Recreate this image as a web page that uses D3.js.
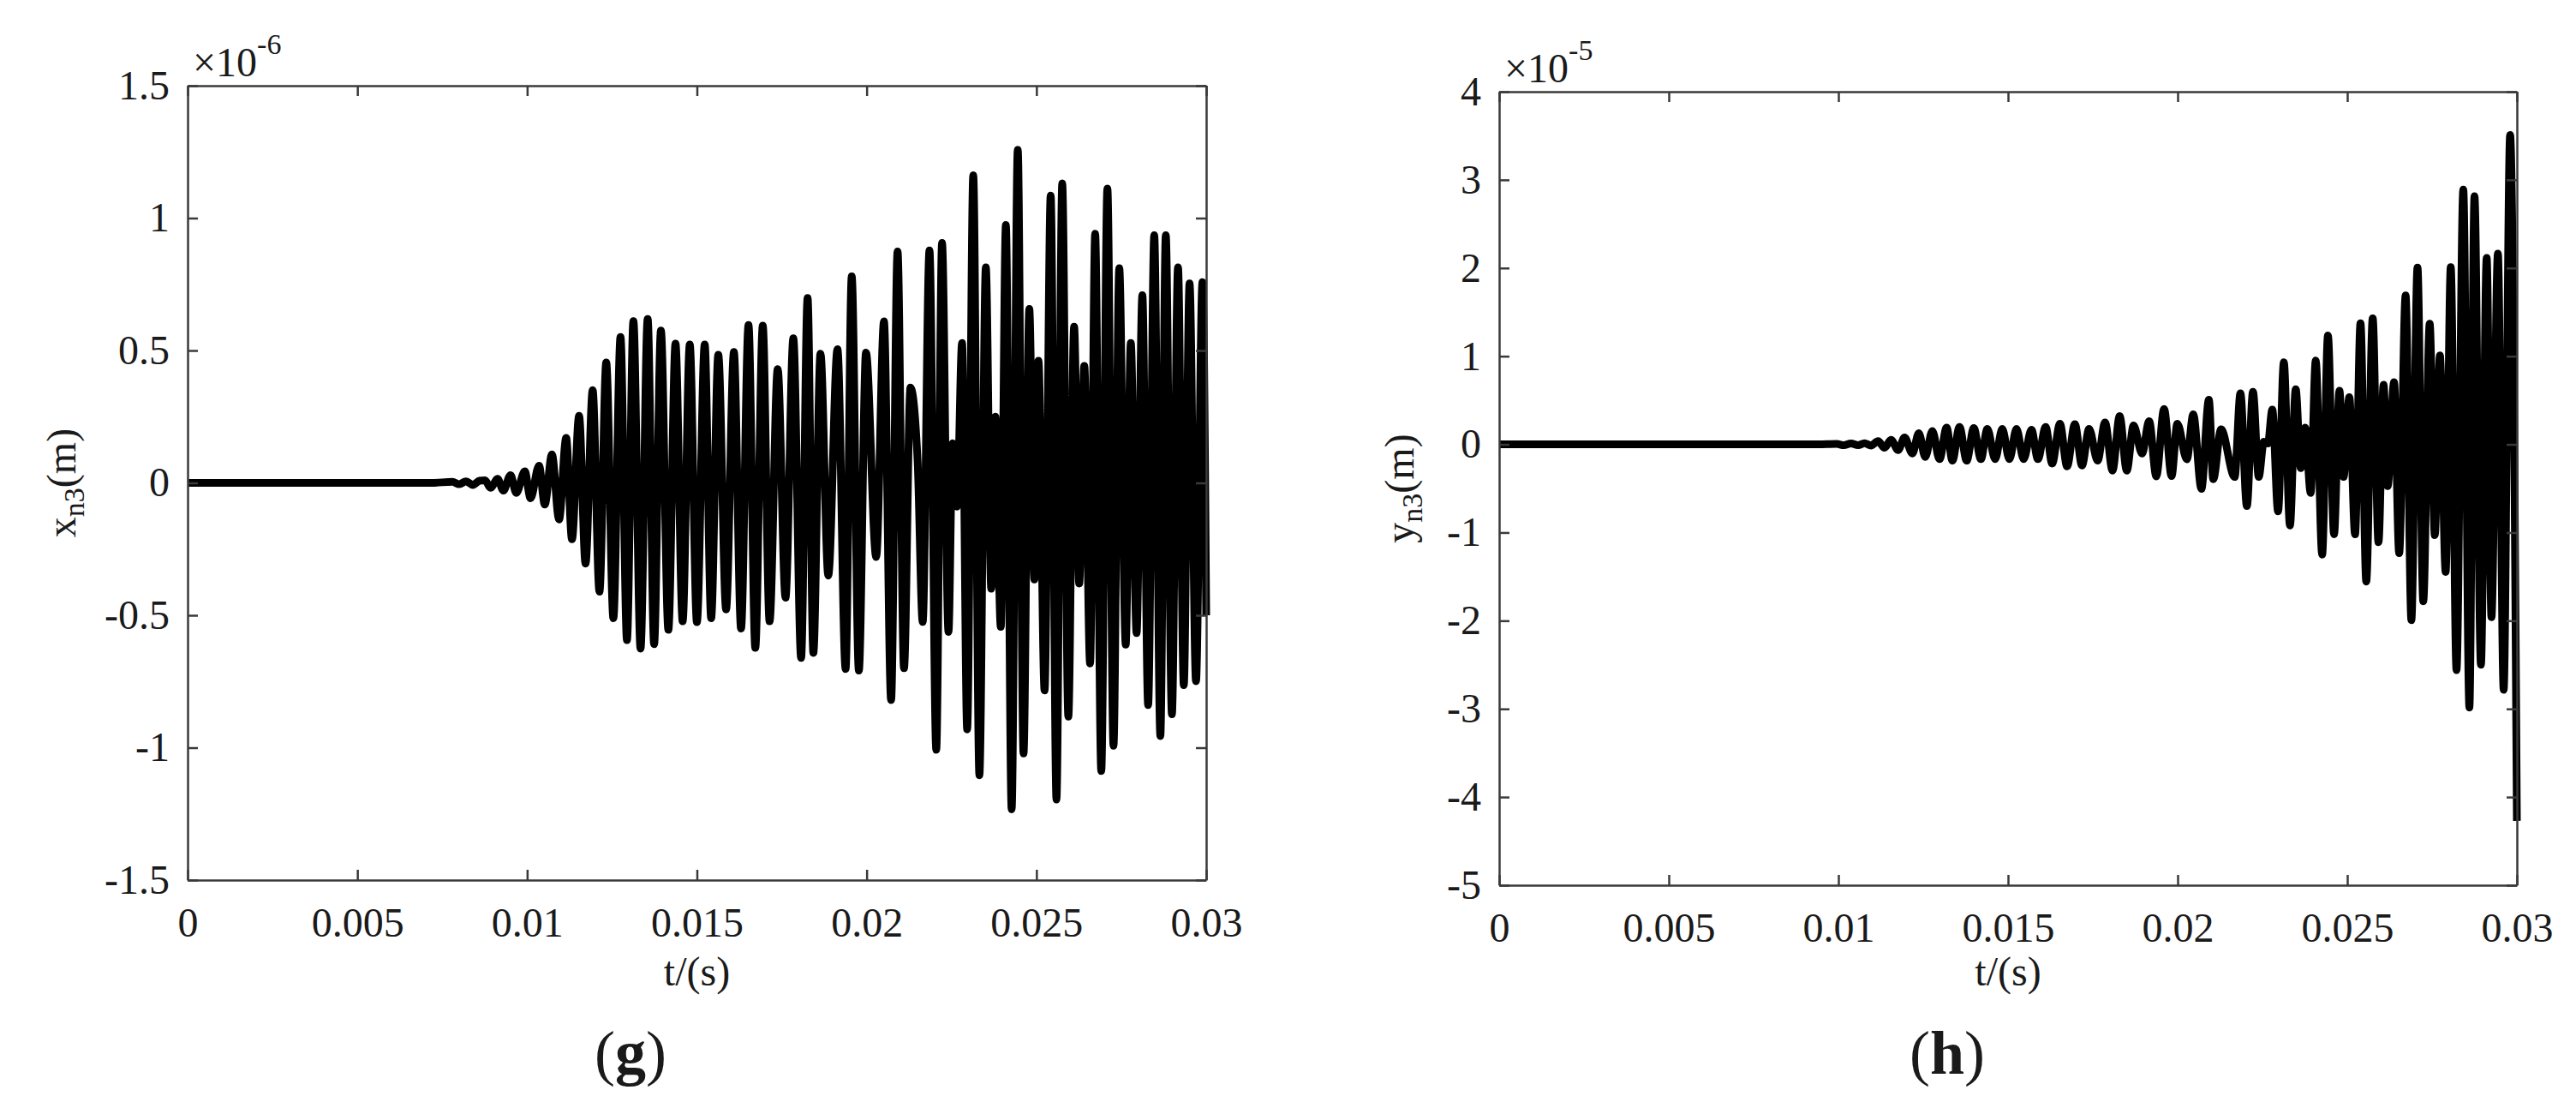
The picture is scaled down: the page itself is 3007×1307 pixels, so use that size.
<!DOCTYPE html>
<html>
<head>
<meta charset="utf-8">
<script src="https://cdn.jsdelivr.net/npm/d3@7"></script>
<style>
  body { margin: 0; background: #fff; }
  text { font-family: "Liberation Serif", "Times New Roman", Times, serif; fill: #1a1a1a; }
</style>
</head>
<body>
<script>
// time ticks shared by both panels
var timeTicks = [0, 0.005, 0.01, 0.015, 0.02, 0.025, 0.03];
var timeTickLabels = ["0", "0.005", "0.01", "0.015", "0.02", "0.025", "0.03"];

// panel (g): x_n3, units of 1e-6 m, peaks and troughs
var gTicks = [-1.5, -1, -0.5, 0, 0.5, 1, 1.5];
var gTickLabels = ["-1.5", "-1", "-0.5", "0", "0.5", "1", "1.5"];
var gTime = [0, 0.0072, 0.0078, 0.008, 0.0082, 0.0084, 0.0086, 0.00876, 0.00892, 0.00913, 0.0093, 0.00951, 0.00968, 0.00993, 0.0101,
  0.01035, 0.01052, 0.01073, 0.01094, 0.01115, 0.01132, 0.01153, 0.01172, 0.01193, 0.01213,
  0.01233, 0.01254, 0.01275, 0.01294, 0.01313, 0.01334, 0.01355, 0.01374, 0.01394, 0.01416,
  0.01437, 0.01458, 0.01479, 0.015, 0.01523, 0.01542, 0.01563, 0.01586, 0.01609, 0.0163,
  0.01652, 0.01672, 0.01694, 0.01714, 0.01738, 0.01761, 0.01784, 0.01807, 0.01826, 0.01843,
  0.01864, 0.01887, 0.01914, 0.01938, 0.01956, 0.01977, 0.01998, 0.02028, 0.02051, 0.02072,
  0.02091, 0.0211, 0.02129, 0.0215, 0.02165, 0.02185, 0.02205, 0.02222, 0.02241, 0.02253,
  0.02266, 0.02281, 0.02296, 0.02314, 0.02332, 0.02351, 0.02367, 0.02379, 0.02395, 0.0241,
  0.02427, 0.02445, 0.02462, 0.02479, 0.02494, 0.02506, 0.02524, 0.02542, 0.02559, 0.02576,
  0.02594, 0.02611, 0.02626, 0.02641, 0.02658, 0.02673, 0.02691, 0.02709, 0.02727, 0.02744,
  0.02763, 0.02778, 0.02795, 0.02812, 0.02829, 0.02847, 0.02865, 0.02881, 0.02899, 0.02917,
  0.02934, 0.02951, 0.0297, 0.02989, 0.03];
var gValue = [0, 0, 0.004, -0.005, 0.006, -0.008, 0.008, 0.01, -0.019, 0.015, -0.029, 0.029, -0.038, 0.044, -0.058,
  0.065, -0.082, 0.108, -0.138, 0.17, -0.213, 0.253, -0.305, 0.35, -0.411,
  0.455, -0.511, 0.551, -0.594, 0.611, -0.626, 0.619, -0.609, 0.575, -0.555,
  0.526, -0.523, 0.523, -0.526, 0.523, -0.511, 0.484, -0.478, 0.494, -0.55,
  0.596, -0.623, 0.594, -0.523, 0.43, -0.434, 0.546, -0.661, 0.698, -0.642,
  0.488, -0.35, 0.505, -0.703, 0.78, -0.709, 0.492, -0.28, 0.61, -0.82,
  0.874, -0.7, 0.36, 0.085, -0.525, 0.878, -1.008, 0.906, -0.563, 0.15,
  -0.09, 0.528, -0.931, 1.162, -1.104, 0.814, -0.4, 0.25, -0.544, 0.974,
  -1.233, 1.258, -1.022, 0.657, -0.365, 0.461, -0.784, 1.085, -1.196, 1.131,
  -0.883, 0.59, -0.38, 0.442, -0.682, 0.941, -1.088, 1.112, -0.993, 0.811,
  -0.611, 0.528, -0.567, 0.709, -0.839, 0.935, -0.956, 0.935, -0.874, 0.814,
  -0.764, 0.753, -0.749, 0.758, -0.5];

// panel (h): y_n3, units of 1e-5 m
var hTicks = [-5, -4, -3, -2, -1, 0, 1, 2, 3, 4];
var hTickLabels = ["-5", "-4", "-3", "-2", "-1", "0", "1", "2", "3", "4"];
var hTime = [0, 0.0094, 0.00995, 0.01016, 0.01037, 0.01058, 0.01077, 0.01096, 0.01117, 0.01136,
  0.01155, 0.01176, 0.01195, 0.01218, 0.01237, 0.01256, 0.01277, 0.01298, 0.01319, 0.01336,
  0.01357, 0.01378, 0.01399, 0.0142, 0.01439, 0.01462, 0.01483, 0.01504, 0.01525, 0.01546,
  0.01569, 0.01588, 0.01611, 0.0163, 0.01653, 0.01674, 0.01697, 0.01718, 0.01739, 0.01764,
  0.01786, 0.01808, 0.01829, 0.0185, 0.0187, 0.01895, 0.01916, 0.01937, 0.0196, 0.01982,
  0.01999, 0.02027, 0.02046, 0.0207, 0.02092, 0.02105, 0.02128, 0.02168, 0.02185, 0.02204,
  0.02222, 0.02239, 0.02254, 0.02266, 0.02279, 0.02296, 0.02313, 0.02331, 0.02348, 0.02363,
  0.02376, 0.02392, 0.02407, 0.02426, 0.02443, 0.02461, 0.02477, 0.02489, 0.02506, 0.02523,
  0.02539, 0.02556, 0.02575, 0.02592, 0.02607, 0.02619, 0.02638, 0.02653, 0.02672, 0.02689,
  0.02707, 0.02724, 0.02743, 0.02758, 0.02773, 0.0279, 0.02805, 0.02822, 0.02842, 0.0286,
  0.02875, 0.02894, 0.02911, 0.02925, 0.02944, 0.02961, 0.0298, 0.03];
var hValue = [0, 0, 0.005, -0.01, 0.01, -0.01, 0.013, -0.013, 0.036, -0.039,
  0.052, -0.065, 0.078, -0.104, 0.126, -0.143, 0.152, -0.168, 0.191, -0.185,
  0.198, -0.185, 0.185, -0.168, 0.175, -0.168, 0.175, -0.168, 0.175, -0.168,
  0.165, -0.168, 0.198, -0.217, 0.233, -0.249, 0.23, -0.24, 0.175, -0.185,
  0.249, -0.298, 0.321, -0.298, 0.214, -0.104, 0.262, -0.363, 0.402, -0.36,
  0.235, -0.17, 0.34, -0.505, 0.505, -0.395, 0.17, -0.37, 0.578, -0.7,
  0.596, -0.37, 0.03, 0.01, 0.395, -0.76, 0.93, -0.92, 0.626, -0.27,
  0.19, -0.55, 0.95, -1.25, 1.234, -1.02, 0.608, -0.37, 0.535, -1.02,
  1.374, -1.556, 1.43, -1.11, 0.675, -0.474, 0.705, -1.234, 1.69, -1.994,
  2.006, -1.78, 1.368, -1.03, 1.01, -1.447, 2.01, -2.56, 2.89, -2.985,
  2.815, -2.5, 2.115, -1.96, 2.164, -2.784, 3.51, -4.27];

var W = 3007, H = 1307;
var FONT = '"Liberation Serif", "Times New Roman", Times, serif';
var svg = d3.select("body").append("svg")
  .attr("width", W)
  .attr("height", H);

function drawPanel(p) {
  var x = d3.scaleLinear().domain([0, 0.03]).range([p.left, p.right]);
  var y = d3.scaleLinear().domain(p.domain).range([p.bottom, p.top]);
  var g = svg.append("g").attr("font-family", FONT);

  var line = d3.line()
    .x(function (d) { return x(d[0]); })
    .y(function (d) { return y(d[1]); })
    .curve(d3.curveMonotoneX);

  g.append("path")
    .datum(d3.zip(p.time, p.value))
    .attr("d", line)
    .attr("fill", "none")
    .attr("stroke", "#000")
    .attr("stroke-width", 9)
    .attr("stroke-linejoin", "round");

  var bottom = g.append("g")
    .attr("transform", "translate(0," + p.bottom + ")")
    .call(d3.axisBottom(x).tickValues(timeTicks)
      .tickFormat(function (d, i) { return timeTickLabels[i]; })
      .tickSizeInner(-12).tickSizeOuter(0).tickPadding(32));
  var left = g.append("g")
    .attr("transform", "translate(" + p.left + ",0)")
    .call(d3.axisLeft(y).tickValues(p.ticks)
      .tickFormat(function (d, i) { return p.tickLabels[i]; })
      .tickSizeInner(-12).tickSizeOuter(0).tickPadding(21));
  var top = g.append("g")
    .attr("transform", "translate(0," + p.top + ")")
    .call(d3.axisTop(x).tickValues(timeTicks).tickFormat("")
      .tickSizeInner(-12).tickSizeOuter(0));
  var right = g.append("g")
    .attr("transform", "translate(" + p.right + ",0)")
    .call(d3.axisRight(y).tickValues(p.ticks).tickFormat("")
      .tickSizeInner(-12).tickSizeOuter(0));

  [bottom, left, top, right].forEach(function (a) {
    a.attr("font-family", FONT).attr("font-size", 48);
    a.selectAll("path, line").attr("stroke", "#3a3a3a").attr("stroke-width", 2.5);
    a.selectAll("text").attr("fill", "#1a1a1a");
  });

  // exponent above the y axis
  var ex = g.append("text")
    .attr("x", p.left + 6)
    .attr("y", p.top - 11)
    .attr("font-size", 48);
  ex.append("tspan").text("\u00d710");
  ex.append("tspan").attr("dy", -26).attr("font-size", 34).text(p.exponent);

  // y label
  var yl = g.append("text")
    .attr("transform", "translate(" + p.ylabelX + "," + (p.top + p.bottom) / 2 + ") rotate(-90)")
    .attr("text-anchor", "middle")
    .attr("font-size", 48);
  yl.append("tspan").text(p.ylabelVar);
  yl.append("tspan").attr("dy", 10).attr("font-size", 34).text("n3");
  yl.append("tspan").attr("dy", -10).text("(m)");

  // x label
  g.append("text")
    .attr("x", (p.left + p.right) / 2)
    .attr("y", 1150)
    .attr("text-anchor", "middle")
    .attr("font-size", 48)
    .text("t/(s)");

  // panel letter
  var pl = g.append("text")
    .attr("x", p.letterX)
    .attr("y", 1253)
    .attr("text-anchor", "middle")
    .attr("font-size", 72);
  pl.append("tspan").text("(");
  pl.append("tspan").attr("font-weight", "bold").text(p.letter);
  pl.append("tspan").text(")");
}

drawPanel({
  left: 219, right: 1408, top: 100, bottom: 1027,
  domain: [-1.5, 1.5], ticks: gTicks, tickLabels: gTickLabels,
  time: gTime, value: gValue, exponent: "-6",
  ylabelVar: "x", ylabelX: 88, letter: "g", letterX: 736
});

drawPanel({
  left: 1750, right: 2938, top: 107, bottom: 1033,
  domain: [-5, 4], ticks: hTicks, tickLabels: hTickLabels,
  time: hTime, value: hValue, exponent: "-5",
  ylabelVar: "y", ylabelX: 1650, letter: "h", letterX: 2273
});
</script>
</body>
</html>
